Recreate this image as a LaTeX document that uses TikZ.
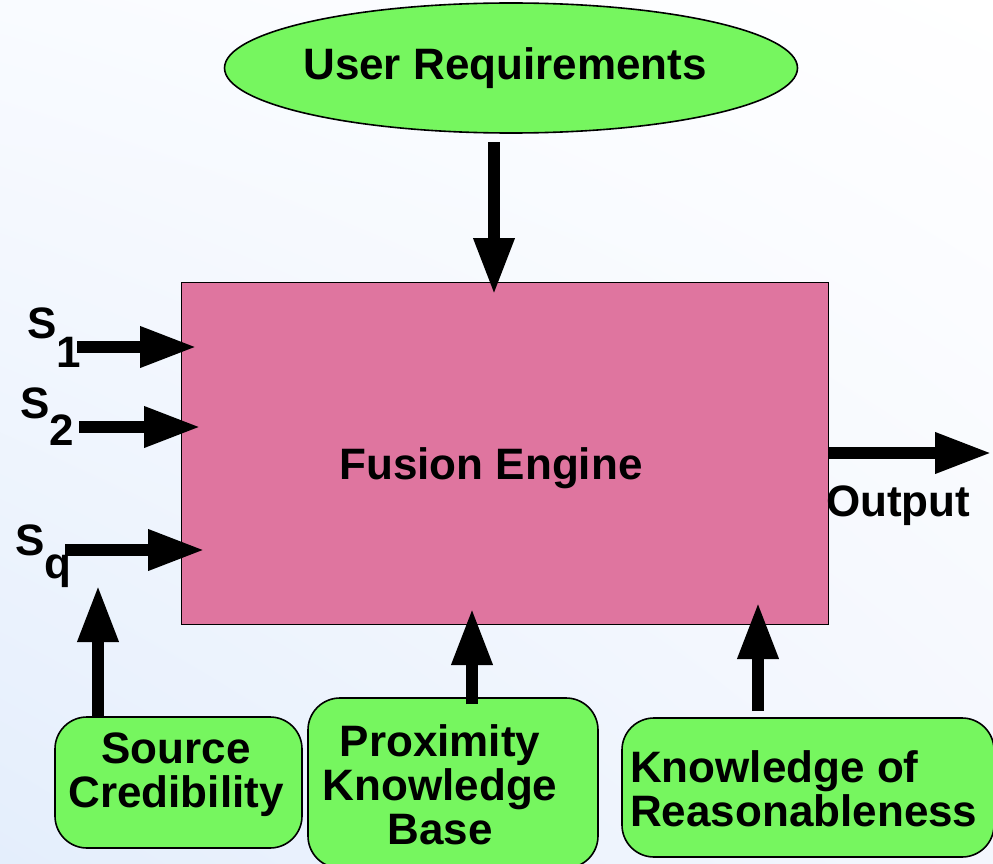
\documentclass[tikz,border=0pt]{standalone}
\usepackage{fontspec}
\setmainfont{Liberation Sans}
\usetikzlibrary{arrows.meta,shapes.geometric,shadings}
\definecolor{leaf}{RGB}{118,246,95}
\definecolor{rose}{RGB}{223,117,159}
\definecolor{skyA}{RGB}{228,238,252}
\definecolor{skyB}{RGB}{244,247,254}
\definecolor{skyC}{RGB}{249,251,255}
\begin{document}
\begin{tikzpicture}[x=1pt,y=-1pt,
  big/.style={font=\fontsize{44}{44}\selectfont\bfseries, inner sep=0pt},
  oneline/.style={big, text depth=0pt},
  greenbox/.style={draw=black, line width=1.6pt, fill=leaf, rounded corners=32pt, inner sep=0pt},
  arr/.style={line width=12.5pt, -{Triangle[length=57pt,width=38pt]}},
]
% canvas and soft background
\useasboundingbox (0,0) rectangle (993,864);
\shade[upper left=skyC, upper right=white, lower left=skyA, lower right=skyB]
  (0,0) rectangle (993,864);

% user requirements
\node[ellipse, draw=black, line width=1.6pt, fill=leaf, minimum width=573pt,
      minimum height=130pt, inner sep=0pt] (ur) at (511,68) {};
\node[oneline] (urtext) at (505,64) {User Requirements};

% fusion engine
\node[draw=black, line width=1.3pt, fill=rose, minimum width=647pt,
      minimum height=342pt, inner sep=0pt, anchor=north west] (engine) at (181,282) {};
\node[oneline] (fetext) at (491,464) {Fusion Engine};

% knowledge sources below the engine
\node[greenbox, minimum width=247pt, minimum height=131pt] (scbox) at (178.5,782.5) {};
\node[big, align=center] (sctext) at (176,775) {Source\\Credibility};

\node[greenbox, minimum width=290pt, minimum height=170pt] (pkbbox) at (453,783) {};
\node[big, align=center] (pkbtext) at (440,785) {Proximity\\Knowledge\\Base};

\node[greenbox, minimum width=372pt, minimum height=139pt] (korbox) at (808,787.5) {};
\node[big, align=left, anchor=west] (kortext) at (630,788.5) {Knowledge of\\Reasonableness};

% sensor inputs
\node[big, anchor=base west] (s1) at (27,338) {S\raisebox{-29pt}{1}};
\node[big, anchor=base west] (s2) at (20,418) {S\raisebox{-27pt}{2}};
\node[big, anchor=base west] (sq) at (15,555) {S\raisebox{-23pt}{q}};

% output label
\node[big, anchor=base west] (outtext) at (826,516) {Output};

% connector end points
\coordinate (s1from) at (77,347);
\coordinate (s2from) at (79,427);
\coordinate (sqfrom) at (65,550);
\coordinate (urtip) at (494,295);
\coordinate (outtip) at (992,453);
\coordinate (sctip) at (98,585);
\coordinate (pkbtip) at (472,608);
\coordinate (kortip) at (758,602);

% connectors
\draw[arr] (s1from) -- ([xshift=16pt]engine.west |- s1from);
\draw[arr] (s2from) -- ([xshift=20pt]engine.west |- s2from);
\draw[arr] (sqfrom) -- ([xshift=24pt]engine.west |- sqfrom);
\draw[arr] ([yshift=-8pt]ur.south -| urtip) -- (urtip);
\draw[arr] (engine.east |- outtip) -- (outtip);
\draw[arr] (scbox.north -| sctip) -- (sctip);
\draw[arr] ([yshift=-7pt]pkbbox.north -| pkbtip) -- (pkbtip);
\draw[arr] ([yshift=6pt]korbox.north -| kortip) -- (kortip);
\end{tikzpicture}
\end{document}
